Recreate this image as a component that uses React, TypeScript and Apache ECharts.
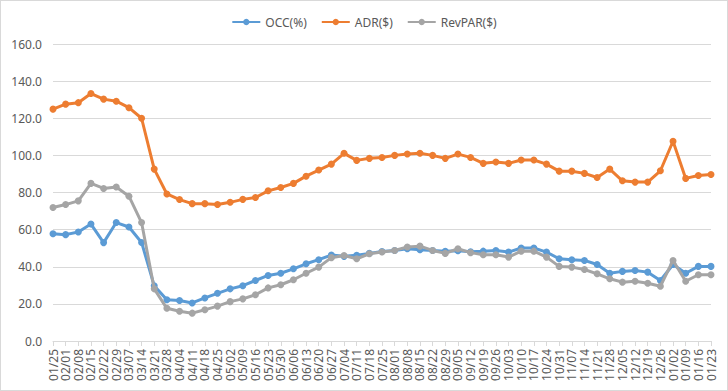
import React, { useEffect, useRef } from "react";
import * as echarts from "echarts";

const weeks = [
  "01/25", "02/01", "02/08", "02/15", "02/22", "02/29", "03/07", "03/14", "03/21", "03/28",
  "04/04", "04/11", "04/18", "04/25", "05/02", "05/09", "05/16", "05/23", "05/30", "06/06",
  "06/13", "06/20", "06/27", "07/04", "07/11", "07/18", "07/25", "08/01", "08/08", "08/15",
  "08/22", "08/29", "09/05", "09/12", "09/19", "09/26", "10/03", "10/10", "10/17", "10/24",
  "10/31", "11/07", "11/14", "11/21", "11/28", "12/05", "12/12", "12/19", "12/26", "01/02",
  "01/09", "01/16", "01/23",
];

const occ = [
  57.8, 57.3, 58.7, 63.0, 53.0, 63.8, 61.4, 53.1, 29.7, 22.2,
  21.8, 20.5, 23.2, 25.7, 28.1, 29.8, 32.6, 35.3, 36.5, 38.9,
  41.6, 43.8, 46.3, 45.6, 46.2, 47.2, 48.2, 48.8, 49.7, 49.2,
  48.8, 48.3, 48.6, 48.1, 48.4, 48.8, 47.9, 50.1, 50.1, 47.9,
  44.3, 43.8, 43.4, 41.2, 36.5, 37.5, 38.0, 37.1, 32.6, 41.2,
  36.5, 40.2, 40.2,
];

const adr = [
  124.9, 127.6, 128.4, 133.3, 130.3, 129.2, 125.7, 120.0, 92.6, 79.2,
  76.2, 74.0, 74.0, 73.5, 74.7, 76.3, 77.3, 80.9, 82.7, 84.9,
  88.8, 92.1, 95.3, 101.1, 97.3, 98.4, 98.9, 100.0, 100.7, 101.1,
  100.0, 98.4, 100.7, 98.9, 95.7, 96.4, 95.7, 97.5, 97.5, 95.3,
  91.5, 91.5, 90.3, 88.1, 92.6, 86.3, 85.6, 85.6, 91.7, 107.6,
  87.6, 89.2, 89.7,
];

const revpar = [
  71.9, 73.5, 75.5, 84.9, 82.2, 83.0, 78.0, 63.8, 28.1, 17.6,
  16.0, 15.0, 16.8, 18.8, 21.2, 22.7, 24.9, 28.6, 30.3, 33.0,
  36.5, 39.8, 44.9, 46.1, 44.3, 47.0, 47.9, 48.8, 50.6, 51.1,
  48.8, 47.2, 49.7, 47.6, 46.5, 46.5, 45.2, 48.4, 48.4, 45.2,
  40.2, 39.8, 38.5, 36.2, 33.5, 31.7, 32.2, 31.1, 29.5, 43.4,
  32.2, 35.7, 35.7,
];

const seriesNames = ["OCC(%)", "ADR($)", "RevPAR($)"];
const seriesColors = ["#5B9BD5", "#ED7D31", "#A5A5A5"];
const yTicks = { min: 0, max: 160, interval: 20 };

const FONT = "'Noto Sans', 'Liberation Sans', sans-serif";
const TEXT = "#595959";

export default function App() {
  const ref = useRef<HTMLDivElement>(null);

  useEffect(() => {
    document.body.style.margin = "0";
    if (!ref.current) return;
    const chart = echarts.init(ref.current, undefined, { renderer: "svg" });
    const datasets = [occ, adr, revpar];
    chart.setOption({
      animation: false,
      backgroundColor: "#ffffff",
      textStyle: { fontFamily: FONT },
      legend: {
        top: 11,
        left: "center",
        itemWidth: 28,
        itemHeight: 8,
        itemGap: 14,
        textStyle: { color: TEXT, fontSize: 12, fontFamily: FONT },
        data: seriesNames,
      },
      grid: { left: 53, right: 17, top: 44, bottom: 50, containLabel: false },
      xAxis: {
        type: "category",
        data: weeks,
        boundaryGap: false,
        axisLine: { lineStyle: { color: "#D9D9D9", width: 1 } },
        axisTick: { show: true, length: 5, lineStyle: { color: "#D9D9D9" } },
        axisLabel: {
          interval: 0,
          rotate: 90,
          color: TEXT,
          fontSize: 12,
          fontFamily: FONT,
          margin: 8,
        },
        splitLine: { show: false },
      },
      yAxis: {
        type: "value",
        min: yTicks.min,
        max: yTicks.max,
        interval: yTicks.interval,
        axisLine: { show: false },
        axisTick: { show: false },
        axisLabel: {
          color: TEXT,
          fontSize: 12,
          fontFamily: FONT,
          margin: 11,
          formatter: (v: number) => v.toFixed(1),
        },
        splitLine: { lineStyle: { color: "#D9D9D9", width: 1 } },
      },
      series: seriesNames.map((name, i) => ({
        name,
        type: "line",
        data: datasets[i],
        symbol: "circle",
        symbolSize: 7,
        showSymbol: true,
        color: seriesColors[i],
        lineStyle: { width: 3, color: seriesColors[i] },
        itemStyle: { color: seriesColors[i] },
        z: 2 + i,
      })),
    });
    return () => chart.dispose();
  }, []);

  return (
    <div style={{ position: "absolute", left: 0, top: 0, width: 728, height: 391 }}>
      <div ref={ref} style={{ position: "absolute", left: 0, top: 0, width: 728, height: 391 }} />
      <div
        style={{
          position: "absolute",
          left: 0,
          top: 0,
          width: 728,
          height: 391,
          boxSizing: "border-box",
          border: "1px solid #D9D9D9",
          pointerEvents: "none",
        }}
      />
    </div>
  );
}
